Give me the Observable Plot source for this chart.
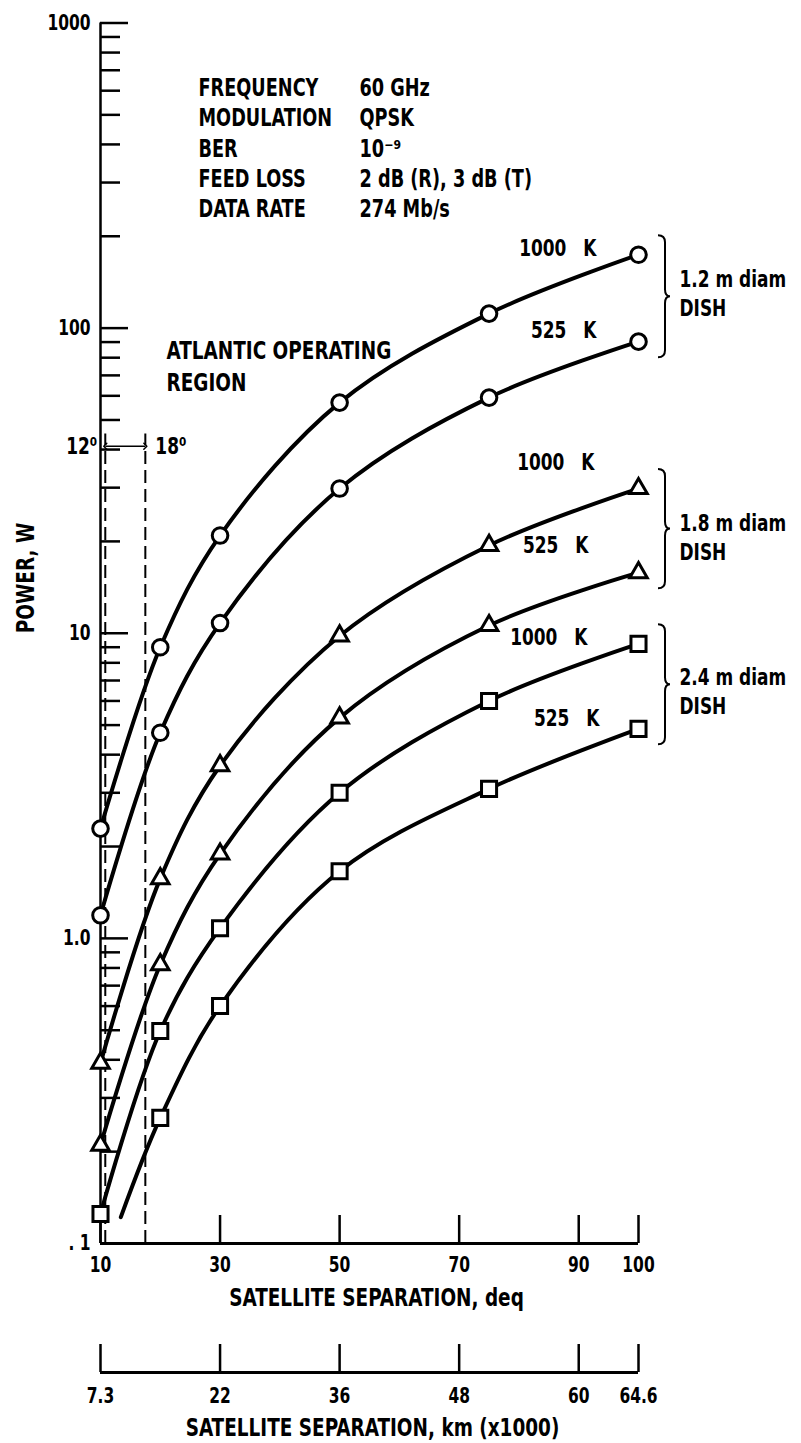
<!DOCTYPE html>
<html><head><meta charset="utf-8">
<script src="https://cdn.jsdelivr.net/npm/d3@7"></script>
<script src="https://cdn.jsdelivr.net/npm/@observablehq/plot@0.6"></script>
<style>html,body{margin:0;padding:0;background:#fff;} #chart svg{display:block;}</style>
</head><body><div id="chart"></div>
<script>
// ---- data ----
const degTicks = [10, 30, 50, 70, 90, 100];
const degTickLabels = ["10", "30", "50", "70", "90", "100"];
const kmTickLabels = ["7.3", "22", "36", "48", "60", "64.6"];
const powerMajorTicks = [0.1, 1, 10, 100, 1000];
const powerMajorLabels = [". 1", "1.0", "10", "100", "1000"];
const markerDeg = [10, 20, 30, 50, 75, 100];
const dish12_1000K = [2.29, 9.0, 20.9, 57, 111.6, 174];
const dish12_525K = [1.19, 4.72, 10.8, 29.8, 59.2, 90.3];
const dish18_1000K = [0.39, 1.57, 3.68, 9.8, 19.4, 29.8];
const dish18_525K = [0.21, 0.82, 1.89, 5.28, 10.6, 15.8];
const dish24_1000K = [0.125, 0.497, 1.08, 3.0, 6.0, 9.23];
const dish24_525K = [null, 0.258, 0.60, 1.66, 3.09, 4.86];
const dish24_525K_curveStart = [13.4, 0.122];
const infoKeys = ["FREQUENCY", "MODULATION", "BER", "FEED LOSS", "DATA RATE"];
const infoValues = ["60 GHz", "QPSK", "10\u207B\u2079", "2 dB (R), 3 dB (T)", "274 Mb/s"];
const regionBounds = [10.8, 17.5];
const regionLabels = ["12\u2070", "18\u2070"];
const regionTop = 45;
const regionArrowPower = 41;
const dishLabels = ["1.2 m diam\nDISH", "1.8 m diam\nDISH", "2.4 m diam\nDISH"];
const tempLabels = ["1000\u2002\u2002K", "525\u2002\u2002K"];
const yTitle = "POWER, W";
const xTitle = "SATELLITE SEPARATION, deq";
const x2Title = "SATELLITE SEPARATION, km (x1000)";
const regionTitle = "ATLANTIC OPERATING\nREGION";

// ---- build tables ----
const series = [
  {id: "a", dish: 0, temp: 0, symbol: "circle", values: dish12_1000K},
  {id: "b", dish: 0, temp: 1, symbol: "circle", values: dish12_525K},
  {id: "c", dish: 1, temp: 0, symbol: "triangle", values: dish18_1000K},
  {id: "d", dish: 1, temp: 1, symbol: "triangle", values: dish18_525K},
  {id: "e", dish: 2, temp: 0, symbol: "square", values: dish24_1000K},
  {id: "f", dish: 2, temp: 1, symbol: "square", values: dish24_525K}
];
const lineRows = [];
const markerRows = [];
for (const s of series) {
  if (s.id === "f") lineRows.push({id: s.id, x: dish24_525K_curveStart[0], y: dish24_525K_curveStart[1]});
  markerDeg.forEach((d, i) => {
    const v = s.values[i];
    if (v == null) return;
    lineRows.push({id: s.id, x: d, y: v});
    markerRows.push({id: s.id, symbol: s.symbol, x: d, y: v});
  });
}
const endRow = (s) => ({x: markerDeg[markerDeg.length - 1], y: s.values[s.values.length - 1]});
const groups = [0, 1, 2].map(k => {
  const top = series.find(s => s.dish === k && s.temp === 0);
  const bot = series.find(s => s.dish === k && s.temp === 1);
  const t = endRow(top), b = endRow(bot);
  return {x: t.x, top: t.y, bottom: b.y, mid: Math.sqrt(t.y * b.y), label: dishLabels[k]};
});

const FONT = '"DejaVu Sans Condensed", "DejaVu Sans", sans-serif';
const SQUEEZE = 0.82; // horizontal condensing of the lettering
const labelMajor = new Map(powerMajorTicks.map((t, i) => [t, powerMajorLabels[i]]));
const kmMap = new Map(degTicks.map((t, i) => [t, kmTickLabels[i]]));
const degMap = new Map(degTicks.map((t, i) => [t, degTickLabels[i]]));
const minorTicks = [];
for (const dec of [0.1, 1, 10, 100]) for (let m = 2; m <= 9; m++) minorTicks.push(+(dec * m).toPrecision(3));

function braceMark(gs) {
  return (index, scales) => {
    const g = d3.create("svg:g").attr("fill", "none").attr("stroke", "black").attr("stroke-width", 2);
    for (const gr of gs) {
      const xm = scales.x(gr.x);
      const yt = scales.y(gr.top) - 19, yb = scales.y(gr.bottom) + 16, ym = (yt + yb) / 2;
      const x0 = xm + 20, x1 = xm + 27, xt = xm + 32, r = 7;
      g.append("path").attr("d",
        `M${x0},${yt}Q${x1},${yt} ${x1},${yt + r}L${x1},${ym - r}Q${x1},${ym} ${xt},${ym}` +
        `Q${x1},${ym} ${x1},${ym + r}L${x1},${yb - r}Q${x1},${yb} ${x0},${yb}`);
    }
    return g.node();
  };
}

const tempOffsets = [[-42, -6], [-42, -11], [-44, -26], [-50, -27], [-51, -6], [-39, -10]];
const groupDy = [-6, 6, 4];
const sec = 129; // offset of the km axis below the degree axis

const chart = Plot.plot({
  width: 801, height: 1443,
  marginTop: 22.5, marginLeft: 100, marginRight: 163, marginBottom: 200,
  style: {fontFamily: FONT, fontSize: "22px", fontWeight: "bold", background: "white", color: "black"},
  x: {domain: [10, 100]},
  y: {type: "log", domain: [0.1, 1000]},
  marks: [
    // axis lines
    Plot.ruleX([10], {strokeWidth: 2.5}),
    Plot.ruleY([0.1], {strokeWidth: 3}),
    // y ticks
    Plot.axisY(minorTicks, {anchor: "left", tickSize: -20, strokeWidth: 2.5, tickFormat: () => "", label: null}),
    Plot.axisY(powerMajorTicks.slice(1), {anchor: "left", tickSize: -28, strokeWidth: 2.5, tickFormat: () => "", label: null}),
    Plot.axisY(powerMajorTicks, {anchor: "left", tickSize: 0, tickPadding: 10, tickFormat: d => labelMajor.get(d), label: null, fontSize: 21}),
    // x ticks (degrees)
    Plot.axisX(degTicks, {anchor: "bottom", tickSize: -28, strokeWidth: 2.5, tickFormat: () => "", label: null}),
    Plot.axisX(degTicks, {anchor: "bottom", tickSize: 0, tickPadding: 14, tickFormat: d => degMap.get(d), label: null, fontSize: 21}),
    // secondary km axis
    Plot.ruleY([0.1], {strokeWidth: 3, dy: sec}),
    Plot.axisX(degTicks, {anchor: "bottom", tickSize: -28, strokeWidth: 2.5, dy: sec, tickFormat: () => "", label: null}),
    Plot.axisX(degTicks, {anchor: "bottom", tickSize: 0, tickPadding: 16, dy: sec, tickFormat: d => kmMap.get(d), label: null, fontSize: 21}),
    // axis titles
    Plot.text([yTitle], {frameAnchor: "left", dx: -75, rotate: -90, fontSize: 25}),
    Plot.text([xTitle], {frameAnchor: "bottom", lineAnchor: "middle", dx: 7, dy: 54, fontSize: 25}),
    Plot.text([x2Title], {frameAnchor: "bottom", lineAnchor: "middle", dx: 3, dy: 55 + sec, fontSize: 25}),
    // Atlantic operating region
    Plot.ruleX(regionBounds, {y1: 0.1, y2: regionTop, strokeWidth: 2, strokeDasharray: "13,6"}),
    Plot.link([0], {x1: regionBounds[0], x2: regionBounds[1], y1: regionArrowPower, y2: regionArrowPower, strokeWidth: 1.5, markerStart: "arrow-reverse", markerEnd: "arrow"}),
    Plot.text([0], {x: regionBounds[0], y: regionArrowPower, text: [regionLabels[0]], textAnchor: "end", dx: -8, fontSize: 23}),
    Plot.text([0], {x: regionBounds[1], y: regionArrowPower, text: [regionLabels[1]], textAnchor: "start", dx: 10, fontSize: 23}),
    Plot.text([regionTitle], {frameAnchor: "top-left", dx: 66, dy: 341.5, textAnchor: "start", lineAnchor: "middle", lineHeight: 1.3, fontSize: 25}),
    // info block
    Plot.text([infoKeys.join("\n")], {frameAnchor: "top-left", dx: 98, dy: 124, textAnchor: "start", lineAnchor: "middle", lineHeight: 1.26, fontSize: 24}),
    Plot.text([infoValues.join("\n")], {frameAnchor: "top-left", dx: 259, dy: 124, textAnchor: "start", lineAnchor: "middle", lineHeight: 1.26, fontSize: 24}),
    // curves
    Plot.line(lineRows, {x: "x", y: "y", z: "id", curve: "catmull-rom", strokeWidth: 4, stroke: "black"}),
    Plot.dot(markerRows.filter(d => d.symbol === "circle"), {x: "x", y: "y", symbol: "circle", r: 7.8, fill: "white", stroke: "black", strokeWidth: 3}),
    Plot.dot(markerRows.filter(d => d.symbol === "triangle"), {x: "x", y: "y", symbol: "triangle", r: 6.5, fill: "white", stroke: "black", strokeWidth: 3}),
    Plot.dot(markerRows.filter(d => d.symbol === "square"), {x: "x", y: "y", symbol: "square", r: 8.5, fill: "white", stroke: "black", strokeWidth: 3}),
    // temperature labels
    ...series.map((s, i) => Plot.text([endRow(s)], {x: "x", y: "y", text: [tempLabels[s.temp]], textAnchor: "end", dx: tempOffsets[i][0], dy: tempOffsets[i][1], fontSize: 23})),
    // braces and dish labels
    braceMark(groups),
    ...groups.map((g, k) => Plot.text([g], {x: "x", y: "mid", text: "label", textAnchor: "start", dx: 41, dy: groupDy[k], lineAnchor: "middle", lineHeight: 1.25, fontSize: 23}))
  ]
});
// condense the lettering horizontally, keeping each text's anchor in place
for (const el of chart.querySelectorAll("text")) {
  const t = el.getAttribute("transform") || "";
  const xa = el.getAttribute("x");
  let pre = "";
  if (xa != null && xa !== "") {
    const xv = parseFloat(xa);
    if (Number.isFinite(xv) && xv !== 0 && !/[a-z%]/i.test(xa)) pre = ` translate(${xv},0)`;
    if (!/[a-z%]/i.test(xa)) el.removeAttribute("x");
  }
  el.setAttribute("transform", `${t}${pre} scale(${SQUEEZE},1)`);
}
document.getElementById("chart").appendChild(chart);
</script></body></html>
